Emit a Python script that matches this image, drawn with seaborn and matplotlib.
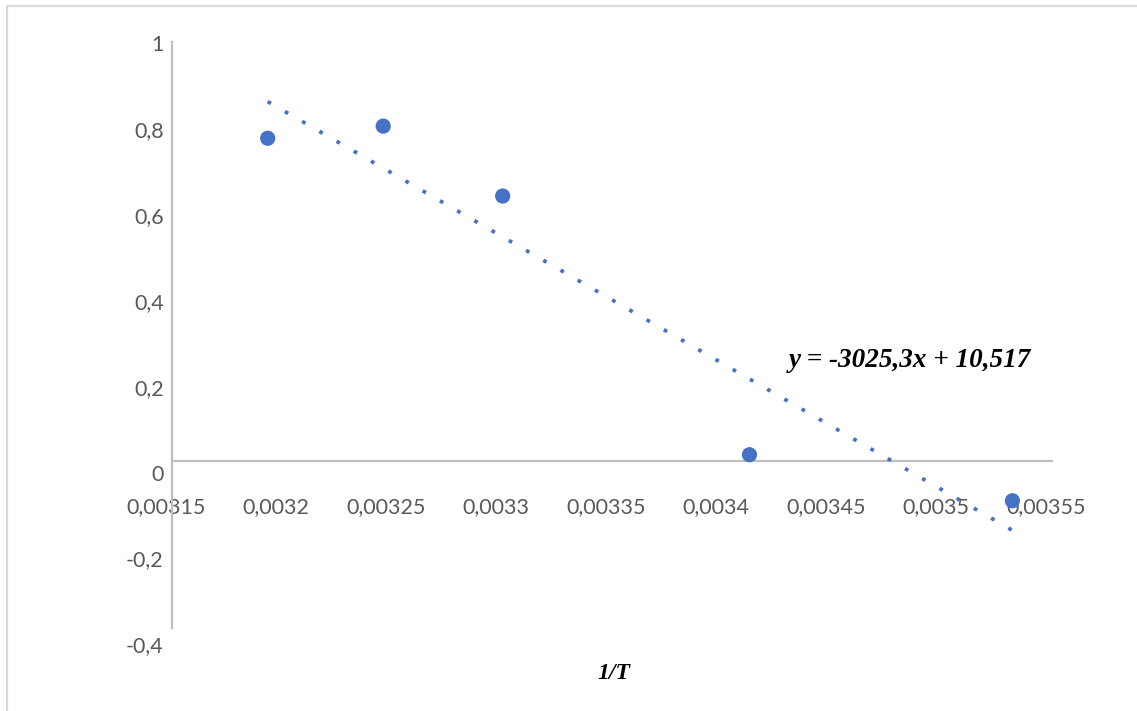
import numpy as np
import pandas as pd
import matplotlib
matplotlib.use("Agg")
import matplotlib.pyplot as plt
import matplotlib.transforms as mtransforms
from matplotlib.lines import Line2D
import seaborn as sns

# ---- data ----
inv_T = [0.0031935, 0.0032460, 0.0033003, 0.0034125, 0.0035320]
y_vals = [0.770, 0.799, 0.632, 0.014, -0.096]
x_ticks = [0.00315, 0.0032, 0.00325, 0.0033, 0.00335, 0.0034, 0.00345, 0.0035, 0.00355]
x_tick_labels = ["0,00315", "0,0032", "0,00325", "0,0033", "0,00335", "0,0034", "0,00345", "0,0035", "0,00355"]
y_ticks = [-0.4, -0.2, 0, 0.2, 0.4, 0.6, 0.8, 1.0]
y_tick_labels = ["-0,4", "-0,2", "0", "0,2", "0,4", "0,6", "0,8", "1"]
equation_text = "y = -3025,3x + 10,517"
x_title = "1/T"

df = pd.DataFrame({"x": inv_T, "y": y_vals})

sns.set_theme(style="white")
plt.rcParams["font.family"] = ["Lato", "DejaVu Sans"]

W, H = 1137, 711
fig = plt.figure(figsize=(W / 100, H / 100), dpi=100)
ax = fig.add_axes([172 / W, 1 - 628 / H, (1052 - 172) / W, (628 - 42) / H])

blue = "#4472C4"
sns.regplot(data=df, x="x", y="y", ax=ax, ci=None, truncate=True,
            scatter_kws=dict(s=120, color=blue, edgecolor="none", alpha=1, zorder=4),
            line_kws=dict(color=blue, lw=2.7, linestyle=(0, (1, 4.3)),
                          dash_capstyle="butt", zorder=3))

ax.set_xlim(0.00315, 0.00355)
ax.set_ylim(-0.4, 1.0)
ax.set_xticks(x_ticks)
ax.set_xticklabels(x_tick_labels)
ax.set_yticks(y_ticks)
ax.set_yticklabels(y_tick_labels)
ax.set_xlabel("")
ax.set_ylabel("")

grey = "#BFBFBF"
for s in ["top", "right"]:
    ax.spines[s].set_visible(False)
ax.spines["left"].set_color(grey)
ax.spines["left"].set_linewidth(1.6)
ax.spines["bottom"].set_color(grey)
ax.spines["bottom"].set_linewidth(1.6)
ax.spines["bottom"].set_position(("data", 0))
ax.spines["left"].set_zorder(1)
ax.spines["bottom"].set_zorder(1)
ax.set_facecolor("white")

ax.tick_params(axis="x", length=0, pad=26, labelsize=15.5, labelcolor="#595959")
ax.tick_params(axis="y", length=0, pad=6, labelsize=15.5, labelcolor="#595959")

# small Excel-like label offsets
for lab in ax.get_xticklabels():
    lab.set_transform(lab.get_transform() + mtransforms.ScaledTranslation(-6 / 100, 0, fig.dpi_scale_trans))
for v, lab in zip(y_ticks, ax.get_yticklabels()):
    off = 1 + (1 - v) * 11
    lab.set_transform(lab.get_transform() + mtransforms.ScaledTranslation(0, -off / 100, fig.dpi_scale_trans))

ax.text((789 - 172) / 880, (628 - 367) / 586, equation_text, transform=ax.transAxes,
        ha="left", va="baseline", fontsize=19.5, fontweight="bold", fontstyle="italic",
        family=["Liberation Serif", "DejaVu Serif"], color="black")

fig.text(614 / W, 1 - 679 / H, x_title, ha="center", va="baseline", fontsize=17,
         fontweight="bold", fontstyle="italic", family=["Liberation Serif", "DejaVu Serif"],
         color="black")

# chart frame (left and top visible)
frame_c = "#D9D9D9"
fig.add_artist(Line2D([7 / W, 7 / W], [0, 1 - 6 / H], transform=fig.transFigure, color=frame_c, lw=1.6))
fig.add_artist(Line2D([7 / W, 1], [1 - 6 / H, 1 - 6 / H], transform=fig.transFigure, color=frame_c, lw=1.6))

fig.savefig("out.png", dpi=100, facecolor="white")
